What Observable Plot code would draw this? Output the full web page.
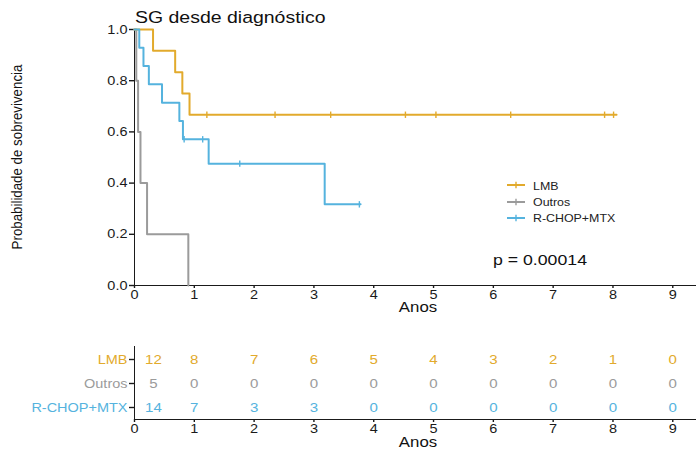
<!DOCTYPE html>
<html>
<head>
<meta charset="utf-8">
<script src="https://cdn.jsdelivr.net/npm/d3@7"></script>
<script src="https://cdn.jsdelivr.net/npm/@observablehq/plot@0.6"></script>
<style>
  html, body { margin: 0; padding: 0; background: #fff; }
  #wrap { position: relative; width: 696px; height: 451px; overflow: hidden; font-family: "Liberation Sans", Arial, sans-serif; }
  #wrap svg { position: absolute; left: 0; overflow: visible; }
  .ht { position: absolute; white-space: nowrap; line-height: 1; transform-origin: 0 0; color: #111; }
  .leg { position: absolute; white-space: nowrap; line-height: 1; font-size: 10.5px; color: #222; }
  .leg span { display: inline-block; transform: scaleX(1.18); transform-origin: 0 50%; }
</style>
</head>
<body>
<div id="wrap"></div>
<script>
// ---------- data ----------
const groups = ["LMB", "Outros", "R-CHOP+MTX"];
const colors = ["#E2AA2C", "#9B9B9B", "#55B3DE"];

// Kaplan-Meier steps (years, survival)
const lmbTimes = [0, 0.31, 0.68, 0.80, 0.92, 8.06];
const lmbSurv  = [1, 0.917, 0.833, 0.75, 0.667, 0.667];
const outTimes = [0, 0.03, 0.06, 0.10, 0.21, 0.90];
const outSurv  = [1, 0.8, 0.6, 0.4, 0.2, 0];
const rchTimes = [0, 0.08, 0.15, 0.24, 0.46, 0.75, 0.81, 1.24, 3.18, 3.78];
const rchSurv  = [1, 0.929, 0.857, 0.786, 0.714, 0.643, 0.571, 0.476, 0.317, 0.317];

// censored observations
const lmbCensTimes = [1.21, 2.35, 3.28, 4.53, 5.04, 6.29, 7.86, 8.01];
const lmbCensSurv  = [0.667, 0.667, 0.667, 0.667, 0.667, 0.667, 0.667, 0.667];
const rchCensTimes = [0.83, 1.14, 1.76, 3.76];
const rchCensSurv  = [0.571, 0.571, 0.476, 0.317];

// number at risk
const riskTimes  = [0, 1, 2, 3, 4, 5, 6, 7, 8, 9];
const riskLMB    = [12, 8, 7, 6, 5, 4, 3, 2, 1, 0];
const riskOutros = [5, 0, 0, 0, 0, 0, 0, 0, 0, 0];
const riskRchop  = [14, 7, 3, 3, 0, 0, 0, 0, 0, 0];

const xTicks = [0, 1, 2, 3, 4, 5, 6, 7, 8, 9];
const yTicks = [0, 0.2, 0.4, 0.6, 0.8, 1.0];

const titleText = "SG desde diagnóstico";
const yLabel = "Probabilidade de sobrevivencia";
const xLabel = "Anos";
const pText = "p = 0.00014";

// ---------- tables ----------
const toRows = (g, ts, ss) => ts.map((t, i) => ({g, t, s: ss[i]}));
const curveRows = [
  ...toRows("Outros", outTimes, outSurv),
  ...toRows("LMB", lmbTimes, lmbSurv),
  ...toRows("R-CHOP+MTX", rchTimes, rchSurv)
];
const censRows = [
  ...toRows("LMB", lmbCensTimes, lmbCensSurv),
  ...toRows("R-CHOP+MTX", rchCensTimes, rchCensSurv)
];
const riskRows = [
  ...riskTimes.map((t, i) => ({g: "LMB", t, n: riskLMB[i]})),
  ...riskTimes.map((t, i) => ({g: "Outros", t, n: riskOutros[i]})),
  ...riskTimes.map((t, i) => ({g: "R-CHOP+MTX", t, n: riskRchop[i]}))
];

const FONT = '"Liberation Sans", Arial, sans-serif';
const SX = 1.16;
const colorOf = Object.fromEntries(groups.map((g, i) => [g, colors[i]]));

// vertical tick symbol for censoring
const tickSymbol = {
  draw(ctx, size) {
    const r = Math.sqrt(size / Math.PI);
    ctx.moveTo(0, -r); ctx.lineTo(0, r);
  }
};

function stretchText(svg, s) {
  d3.select(svg).selectAll("text").each(function () {
    const x = parseFloat(this.getAttribute("x")) || 0;
    const t = this.getAttribute("transform") || "";
    this.setAttribute("transform", `${t} translate(${x},0) scale(${s},1) translate(${-x},0)`);
  });
}
function thickenAxes(svg) {
  d3.select(svg).selectAll("g[aria-label]").each(function () {
    const a = this.getAttribute("aria-label") || "";
    if (/axis|frame/.test(a) && !/label/.test(a)) {
      this.setAttribute("stroke-width", 1.4);
      this.setAttribute("stroke", "#1a1a1a");
    }
  });
}

const wrap = document.getElementById("wrap");

// ---------- survival plot ----------
const survPlot = Plot.plot({
  width: 696, height: 320,
  marginLeft: 134, marginRight: 1, marginTop: 29, marginBottom: 35,
  style: {fontFamily: FONT, fontSize: "12.5px", color: "#1a1a1a", background: "transparent"},
  x: {domain: [0, 9.38], ticks: xTicks, tickSize: 3, tickPadding: 2, label: null, line: true},
  y: {domain: [0, 1], ticks: yTicks, tickFormat: ".1f", tickSize: 5, tickPadding: 2, label: null, line: true},
  color: {domain: groups, range: colors},
  marks: [
    Plot.line(curveRows, {x: "t", y: "s", z: "g", stroke: "g", curve: "step-after", strokeWidth: 2}),
    Plot.dot(censRows, {x: "t", y: "s", stroke: "g", fill: "none", symbol: tickSymbol, r: 3.2, strokeWidth: 1.4}),
    Plot.text([xLabel], {text: d => d, frameAnchor: "bottom", dy: 26, dx: 3, fontSize: 14.5, fill: "#111"})
  ]
});
survPlot.style.top = "0px";
thickenAxes(survPlot);
stretchText(survPlot, SX);
wrap.appendChild(survPlot);

// ---------- risk table ----------
const riskPlot = Plot.plot({
  width: 696, height: 121,
  marginLeft: 134, marginRight: 1, marginTop: 16, marginBottom: 32,
  style: {fontFamily: FONT, fontSize: "12.5px", color: "#1a1a1a", background: "transparent"},
  x: {domain: [0, 9.38], ticks: xTicks, tickSize: 3, tickPadding: 2, label: null, line: true},
  y: {type: "band", domain: groups, padding: 0, tickSize: 5, tickPadding: 2, label: null, line: true},
  color: {domain: groups, range: colors},
  marks: [
    Plot.text(riskRows.filter(d => d.t > 0), {x: "t", y: "g", text: "n", fill: "g", fontSize: 13}),
    Plot.text(riskRows.filter(d => d.t === 0), {x: "t", y: "g", text: "n", fill: "g", fontSize: 13, dx: 19}),
    Plot.text([xLabel], {text: d => d, frameAnchor: "bottom", dy: 27, dx: 3, fontSize: 14.5, fill: "#111"})
  ]
});
riskPlot.style.top = "330px";
d3.select(riskPlot).selectAll("text").each(function () {
  const c = colorOf[this.textContent];
  if (c) this.setAttribute("fill", c);
});
thickenAxes(riskPlot);
stretchText(riskPlot, SX);
wrap.appendChild(riskPlot);

// ---------- html texts ----------
function addText(txt, left, topPx, size, sx) {
  const d = document.createElement("div");
  d.className = "ht";
  d.textContent = txt;
  d.style.left = left + "px";
  d.style.top = topPx + "px";
  d.style.fontSize = size + "px";
  d.style.transform = `scaleX(${sx})`;
  wrap.appendChild(d);
  return d;
}
addText(titleText, 135, 10, 16.8, SX);
addText(pText, 493, 252, 15, 1.18);

// y label (rotated)
const yl = document.createElement("div");
yl.className = "ht";
yl.textContent = yLabel;
yl.style.fontSize = "13.3px";
yl.style.left = "17px";
yl.style.top = "157px";
yl.style.transform = "scaleX(1.16) rotate(-90deg) translate(-50%,-50%)";
wrap.appendChild(yl);

// legend
const legendTops = [185, 201.7, 217.7];
groups.forEach((g, i) => {
  const row = document.createElement("div");
  row.className = "leg";
  row.style.left = "507px";
  row.style.top = (legendTops[i] - 6) + "px";
  row.innerHTML = `<svg width="20" height="12" style="position:absolute;left:0;top:0;overflow:visible">
      <line x1="0" x2="18" y1="6" y2="6" stroke="${colors[i]}" stroke-width="2"/>
      <line x1="9" x2="9" y1="2.8" y2="9.2" stroke="${colors[i]}" stroke-width="1.4"/>
    </svg><span style="position:absolute;left:26px;top:1.5px">${g}</span>`;
  wrap.appendChild(row);
});
</script>
</body>
</html>
